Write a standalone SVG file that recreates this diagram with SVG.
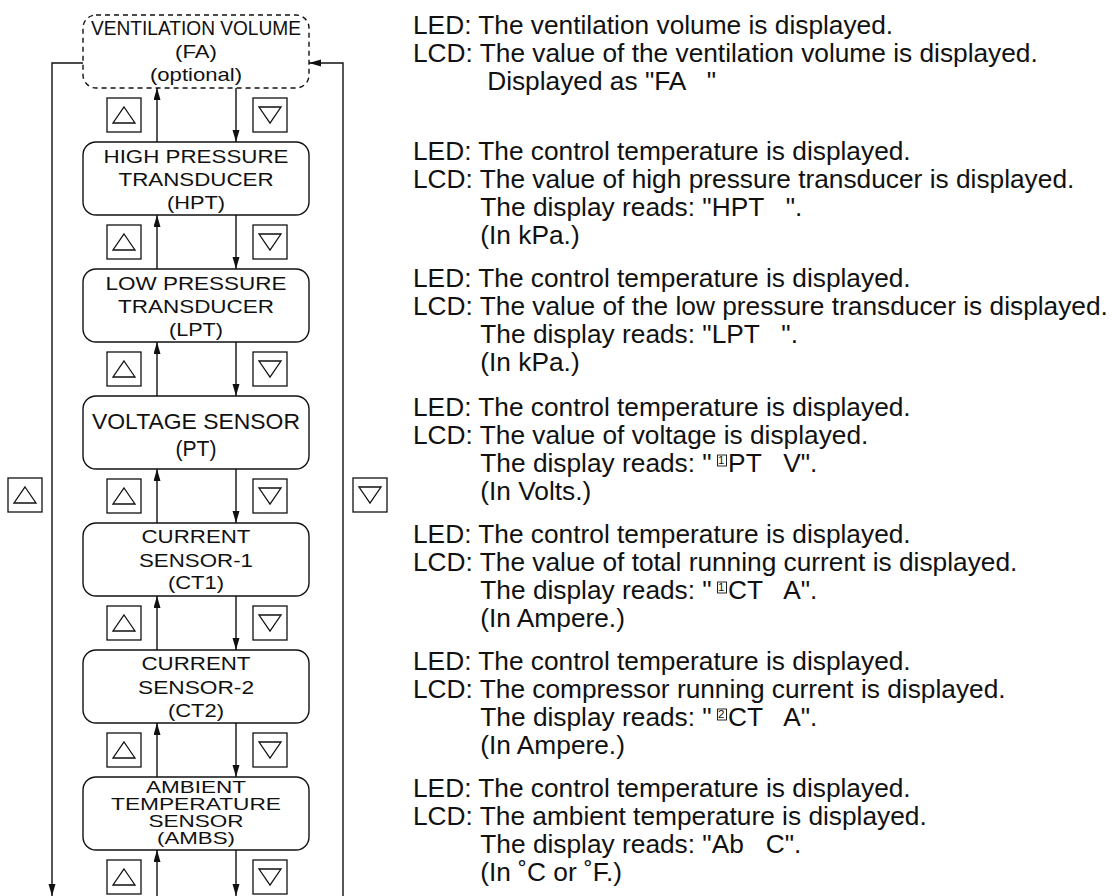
<svg xmlns="http://www.w3.org/2000/svg" width="1114" height="896" viewBox="0 0 1114 896">
<style>
  .box{fill:#fff;stroke:#111;stroke-width:1.4}
  .dash{stroke-dasharray:5 4}
  .btn{fill:#fff;stroke:#111;stroke-width:1.3}
  .tri{fill:none;stroke:#111;stroke-width:1.3;stroke-linejoin:miter}
  .ln{fill:none;stroke:#111;stroke-width:1.4}
  .nt{font-family:"Liberation Sans",Arial,sans-serif;fill:#111;text-anchor:middle}
  .rt{font-family:"Liberation Sans",Arial,sans-serif;font-size:25px;fill:#111;white-space:pre}
</style>
<defs>
  <marker id="ah" markerUnits="userSpaceOnUse" markerWidth="12" markerHeight="8" refX="12" refY="3.5" orient="auto">
    <path d="M0,0 L12,3.5 L0,7 z" fill="#111"/>
  </marker>
  <g id="up"><rect class="btn" x="0" y="0" width="34" height="34"/><path class="tri" d="M17,9 L28,25 L6,25 z"/></g>
  <g id="dn"><rect class="btn" x="0" y="0" width="34" height="34"/><path class="tri" d="M6,9 L28,9 L17,25 z"/></g>
</defs>

<g id="connectors">
  <line class="ln" x1="157" y1="142" x2="157" y2="88" marker-end="url(#ah)"/>
  <line class="ln" x1="236" y1="88" x2="236" y2="142" marker-end="url(#ah)"/>
  <line class="ln" x1="157" y1="269" x2="157" y2="215" marker-end="url(#ah)"/>
  <line class="ln" x1="236" y1="215" x2="236" y2="269" marker-end="url(#ah)"/>
  <line class="ln" x1="157" y1="396" x2="157" y2="342" marker-end="url(#ah)"/>
  <line class="ln" x1="236" y1="342" x2="236" y2="396" marker-end="url(#ah)"/>
  <line class="ln" x1="157" y1="523" x2="157" y2="469" marker-end="url(#ah)"/>
  <line class="ln" x1="236" y1="469" x2="236" y2="523" marker-end="url(#ah)"/>
  <line class="ln" x1="157" y1="650" x2="157" y2="596" marker-end="url(#ah)"/>
  <line class="ln" x1="236" y1="596" x2="236" y2="650" marker-end="url(#ah)"/>
  <line class="ln" x1="157" y1="777" x2="157" y2="723" marker-end="url(#ah)"/>
  <line class="ln" x1="236" y1="723" x2="236" y2="777" marker-end="url(#ah)"/>
  <line class="ln" x1="157" y1="896" x2="157" y2="850" marker-end="url(#ah)"/>
  <line class="ln" x1="236" y1="850" x2="236" y2="896" marker-end="url(#ah)"/>
  <polyline class="ln" points="83,63 52,63 52,896" marker-end="url(#ah)"/>
  <polyline class="ln" points="343,896 343,63 309,63" marker-end="url(#ah)"/>
</g>

<g id="buttons">
  <use href="#up" x="107" y="98"/><use href="#dn" x="253" y="98"/>
  <use href="#up" x="107" y="225"/><use href="#dn" x="253" y="225"/>
  <use href="#up" x="107" y="352"/><use href="#dn" x="253" y="352"/>
  <use href="#up" x="107" y="479"/><use href="#dn" x="253" y="479"/>
  <use href="#up" x="107" y="606"/><use href="#dn" x="253" y="606"/>
  <use href="#up" x="107" y="733"/><use href="#dn" x="253" y="733"/>
  <use href="#up" x="107" y="860"/><use href="#dn" x="253" y="860"/>
  <use href="#up" x="8" y="478"/><use href="#dn" x="353" y="478"/>
</g>

<g id="node-fa">
  <rect class="box dash" x="83" y="15" width="226" height="73" rx="13"/>
  <text class="nt" font-size="19.5" x="196" y="35" textLength="210" lengthAdjust="spacingAndGlyphs">VENTILATION VOLUME</text>
  <text class="nt" font-size="18.5" x="196" y="58" textLength="42" lengthAdjust="spacingAndGlyphs">(FA)</text>
  <text class="nt" font-size="18.5" x="196" y="81" textLength="92" lengthAdjust="spacingAndGlyphs">(optional)</text>
</g>
<g id="node-hpt">
  <rect class="box" x="83" y="142" width="226" height="73" rx="13"/>
  <text class="nt" font-size="19" x="196" y="163" textLength="185" lengthAdjust="spacingAndGlyphs">HIGH PRESSURE</text>
  <text class="nt" font-size="19" x="196" y="186" textLength="155" lengthAdjust="spacingAndGlyphs">TRANSDUCER</text>
  <text class="nt" font-size="19" x="196" y="209" textLength="58" lengthAdjust="spacingAndGlyphs">(HPT)</text>
</g>
<g id="node-lpt">
  <rect class="box" x="83" y="269" width="226" height="73" rx="13"/>
  <text class="nt" font-size="19" x="196" y="290" textLength="181" lengthAdjust="spacingAndGlyphs">LOW PRESSURE</text>
  <text class="nt" font-size="19" x="196" y="313" textLength="156" lengthAdjust="spacingAndGlyphs">TRANSDUCER</text>
  <text class="nt" font-size="19" x="196" y="336" textLength="54" lengthAdjust="spacingAndGlyphs">(LPT)</text>
</g>
<g id="node-pt">
  <rect class="box" x="83" y="396" width="226" height="73" rx="13"/>
  <text class="nt" font-size="22.5" x="196" y="429" textLength="208" lengthAdjust="spacingAndGlyphs">VOLTAGE SENSOR</text>
  <text class="nt" font-size="22" x="196" y="456" textLength="41" lengthAdjust="spacingAndGlyphs">(PT)</text>
</g>
<g id="node-ct1">
  <rect class="box" x="83" y="523" width="226" height="73" rx="13"/>
  <text class="nt" font-size="18.5" x="196" y="543" textLength="109" lengthAdjust="spacingAndGlyphs">CURRENT</text>
  <text class="nt" font-size="18.5" x="196" y="567" textLength="114" lengthAdjust="spacingAndGlyphs">SENSOR-1</text>
  <text class="nt" font-size="18.5" x="196" y="589" textLength="56" lengthAdjust="spacingAndGlyphs">(CT1)</text>
</g>
<g id="node-ct2">
  <rect class="box" x="83" y="650" width="226" height="73" rx="13"/>
  <text class="nt" font-size="18.5" x="196" y="670" textLength="109" lengthAdjust="spacingAndGlyphs">CURRENT</text>
  <text class="nt" font-size="18.5" x="196" y="694" textLength="116" lengthAdjust="spacingAndGlyphs">SENSOR-2</text>
  <text class="nt" font-size="18.5" x="196" y="717" textLength="56" lengthAdjust="spacingAndGlyphs">(CT2)</text>
</g>
<g id="node-ambs">
  <rect class="box" x="83" y="777" width="226" height="73" rx="13"/>
  <text class="nt" font-size="16.5" x="196" y="793" textLength="100" lengthAdjust="spacingAndGlyphs">AMBIENT</text>
  <text class="nt" font-size="16.5" x="196" y="810" textLength="170" lengthAdjust="spacingAndGlyphs">TEMPERATURE</text>
  <text class="nt" font-size="16.5" x="196" y="827" textLength="95" lengthAdjust="spacingAndGlyphs">SENSOR</text>
  <text class="nt" font-size="16.5" x="196" y="844" textLength="78" lengthAdjust="spacingAndGlyphs">(AMBS)</text>
</g>

<g id="descriptions" transform="translate(413,0) scale(1.052,1)">
  <text class="rt" x="0" y="34">LED: The ventilation volume is displayed.</text>
  <text class="rt" x="0" y="62">LCD: The value of the ventilation volume is displayed.</text>
  <text class="rt" x="70.5" y="90">Displayed as "FA   "</text>

  <text class="rt" x="0" y="160">LED: The control temperature is displayed.</text>
  <text class="rt" x="0" y="188">LCD: The value of high pressure transducer is displayed.</text>
  <text class="rt" x="64" y="216">The display reads: "HPT   ".</text>
  <text class="rt" x="64" y="244">(In kPa.)</text>

  <text class="rt" x="0" y="287">LED: The control temperature is displayed.</text>
  <text class="rt" x="0" y="315">LCD: The value of the low pressure transducer is displayed.</text>
  <text class="rt" x="64" y="343">The display reads: "LPT   ".</text>
  <text class="rt" x="64" y="371">(In kPa.)</text>

  <text class="rt" x="0" y="416">LED: The control temperature is displayed.</text>
  <text class="rt" x="0" y="444">LCD: The value of voltage is displayed.</text>
  <text class="rt" x="64" y="472">The display reads: "<tspan font-size="11" dx="6" dy="-7.5">1</tspan><tspan dx="3.5" dy="7.5">PT   V".</tspan></text>
  <rect x="289.5" y="455" width="8.5" height="11" fill="none" stroke="#111" stroke-width="0.9"/>
  <text class="rt" x="64" y="500">(In Volts.)</text>

  <text class="rt" x="0" y="543">LED: The control temperature is displayed.</text>
  <text class="rt" x="0" y="571">LCD: The value of total running current is displayed.</text>
  <text class="rt" x="64" y="599">The display reads: "<tspan font-size="11" dx="6" dy="-7.5">1</tspan><tspan dx="3.5" dy="7.5">CT   A".</tspan></text>
  <rect x="289.5" y="582" width="8.5" height="11" fill="none" stroke="#111" stroke-width="0.9"/>
  <text class="rt" x="64" y="627">(In Ampere.)</text>

  <text class="rt" x="0" y="670">LED: The control temperature is displayed.</text>
  <text class="rt" x="0" y="698">LCD: The compressor running current is displayed.</text>
  <text class="rt" x="64" y="726">The display reads: "<tspan font-size="11" dx="6" dy="-7.5">2</tspan><tspan dx="3.5" dy="7.5">CT   A".</tspan></text>
  <rect x="289.5" y="709" width="8.5" height="11" fill="none" stroke="#111" stroke-width="0.9"/>
  <text class="rt" x="64" y="754">(In Ampere.)</text>

  <text class="rt" x="0" y="797">LED: The control temperature is displayed.</text>
  <text class="rt" x="0" y="825">LCD: The ambient temperature is displayed.</text>
  <text class="rt" x="64" y="853">The display reads: "Ab   C".</text>
  <text class="rt" x="64" y="881">(In ˚C or ˚F.)</text>
</g>
</svg>
